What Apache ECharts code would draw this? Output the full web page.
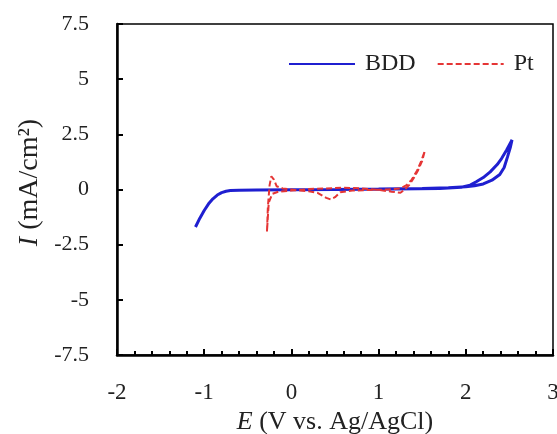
<!DOCTYPE html>
<html>
<head>
<meta charset="utf-8">
<script src="https://cdn.jsdelivr.net/npm/echarts@6/dist/echarts.min.js"></script>
<style>
  html, body { margin: 0; padding: 0; background: #fff; }
  #cv { width: 557px; height: 434px; }
</style>
</head>
<body>
<div id="cv"></div>
<script>
  // E (V vs. Ag/AgCl), I (mA/cm2)
  const bddE = [-1.1, -1.05, -1.0, -0.95, -0.9, -0.85, -0.8, -0.75, -0.7, -0.6, -0.4, 0, 0.5, 1.0, 1.5, 1.8, 2.0, 2.1, 2.2, 2.3, 2.39, 2.44, 2.48, 2.51, 2.53,
                2.47, 2.41, 2.36, 2.28, 2.2, 2.12, 2.05, 1.95, 1.7, 1.2, 0.5, 0];
  const bddI = [-1.7, -1.3, -0.95, -0.65, -0.42, -0.25, -0.14, -0.08, -0.05, -0.03, -0.02, -0.01, 0, 0.02, 0.05, 0.08, 0.12, 0.17, 0.25, 0.42, 0.68, 1.0, 1.5, 1.9, 2.25,
                1.8, 1.4, 1.13, 0.8, 0.54, 0.35, 0.2, 0.1, 0.05, 0.02, 0, -0.01];

  const ptE = [-0.28, -0.27, -0.25, -0.23, -0.2, -0.17, -0.1, 0, 0.1, 0.2, 0.3, 0.4, 0.45, 0.5, 0.56, 0.7, 0.9, 1.1, 1.25, 1.32, 1.38, 1.44, 1.49, 1.53,
               1.5, 1.45, 1.4, 1.35, 1.3, 1.25, 1.15, 1.0, 0.8, 0.6, 0.4, 0.2, 0, -0.15, -0.22, -0.26, -0.28];
  const ptI = [-1.9, -0.8, 0.2, 0.6, 0.45, 0.15, 0.05, 0, -0.05, -0.08, -0.15, -0.38, -0.45, -0.35, -0.12, -0.05, -0.02, 0, 0.05, 0.2, 0.45, 0.85, 1.3, 1.75,
               1.3, 0.85, 0.5, 0.2, 0, -0.15, -0.1, -0.02, 0.05, 0.08, 0.05, 0.02, -0.05, -0.1, -0.2, -0.6, -1.9];

  const seriesNames = ['BDD', 'Pt'];

  const pairs = (xs, ys) => xs.map((x, i) => [x, ys[i]]);
  const serif = 'Liberation Serif';

  let chart = echarts.init(document.getElementById('cv'));
  chart.setOption({
    animation: false,
    grid: {
      left: 117, top: 24, right: 4, bottom: 79,
      outerBoundsMode: 'none',
      show: true, borderColor: '#000', borderWidth: 1.5
    },
    legend: {
      left: 288, top: 52, padding: 0,
      itemWidth: 66, itemHeight: 2, itemGap: 21,
      itemStyle: { opacity: 0 },
      textStyle: { fontFamily: serif, fontSize: 24, color: '#222', padding: [0, 0, 0, 5] },
      data: seriesNames
    },
    xAxis: {
      type: 'value', min: -2, max: 3, interval: 1,
      name: '{i|E} (V vs. Ag/AgCl)',
      nameLocation: 'middle', nameGap: 54,
      nameTextStyle: {
        fontFamily: serif, fontSize: 26, color: '#222',
        rich: { i: { fontFamily: serif, fontSize: 26, fontStyle: 'italic', color: '#222' } }
      },
      axisLine: { onZero: false, lineStyle: { color: '#000', width: 2.5 } },
      axisTick: { inside: true, length: 6, lineStyle: { color: '#000', width: 2 } },
      minorTick: { show: true, splitNumber: 5, length: 4, lineStyle: { color: '#000', width: 2 } },
      splitLine: { show: false },
      axisLabel: { fontFamily: serif, fontSize: 23, color: '#222', margin: 26 }
    },
    yAxis: {
      type: 'value', min: -7.5, max: 7.5, interval: 2.5,
      name: '{i|I} (mA/cm²)',
      nameLocation: 'middle', nameGap: 72,
      nameTextStyle: {
        fontFamily: serif, fontSize: 28, color: '#222', padding: [0, 0, 0, 14],
        rich: { i: { fontFamily: serif, fontSize: 28, fontStyle: 'italic', color: '#222' } }
      },
      axisLine: { onZero: false, lineStyle: { color: '#000', width: 2.5 } },
      axisTick: { inside: true, length: 6, lineStyle: { color: '#000', width: 2 } },
      splitLine: { show: false },
      axisLabel: { fontFamily: serif, fontSize: 22, color: '#222', margin: 28 }
    },
    series: [
      {
        name: seriesNames[0], type: 'line', showSymbol: false, symbol: 'none',
        color: '#1f1fd0',
        lineStyle: { width: 3, color: '#1f1fd0' },
        data: pairs(bddE, bddI)
      },
      {
        name: seriesNames[1], type: 'line', showSymbol: false, symbol: 'none',
        color: '#e53535',
        lineStyle: { width: 2, color: '#e53535', type: [6, 3] },
        data: pairs(ptE, ptI)
      }
    ]
  });
</script>
</body>
</html>
